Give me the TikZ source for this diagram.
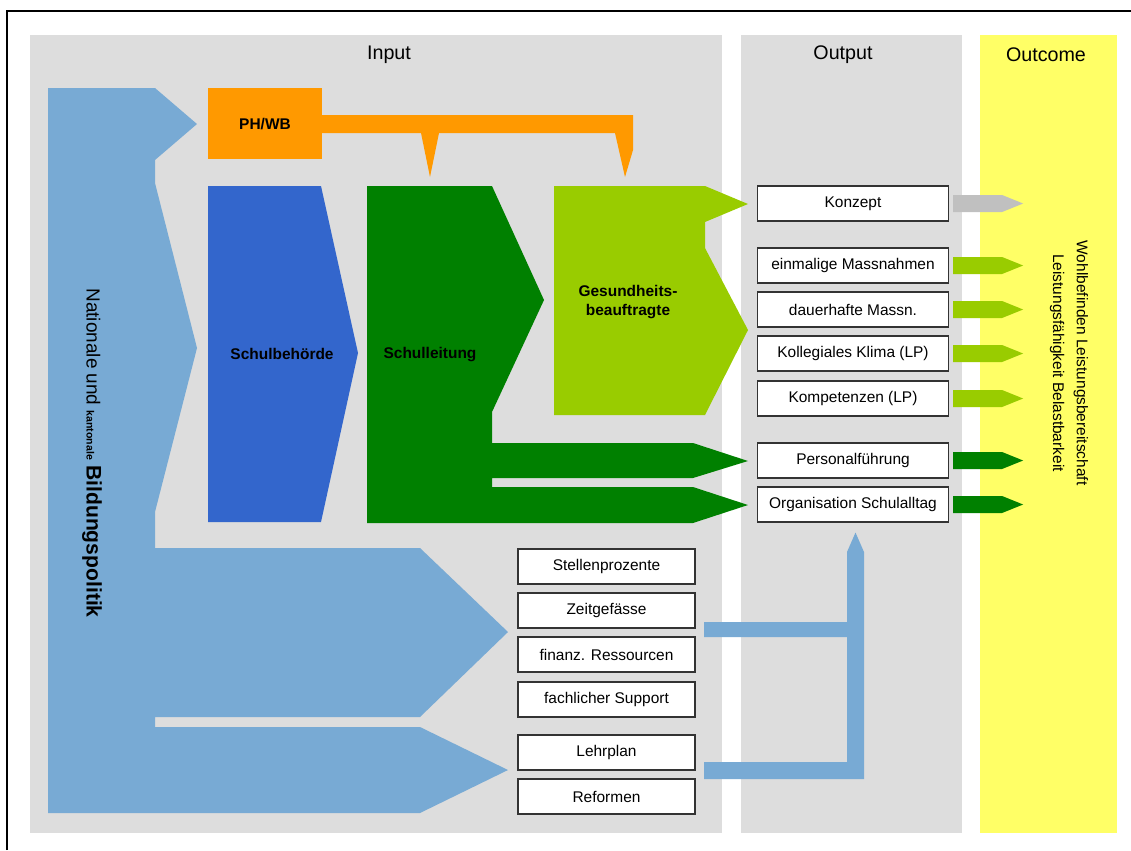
\documentclass[tikz,border=0pt]{standalone}
\usepackage{fontspec}
\setmainfont{Liberation Sans}
\usetikzlibrary{calc}
\definecolor{panelgray}{RGB}{221,221,221}
\definecolor{outcomeyellow}{RGB}{255,255,102}
\definecolor{politikblue}{RGB}{120,170,212}
\definecolor{behoerdeblue}{RGB}{51,102,204}
\definecolor{leitunggreen}{RGB}{0,128,0}
\definecolor{gesundgreen}{RGB}{153,204,0}
\definecolor{phorange}{RGB}{255,153,0}
\definecolor{arrowgray}{RGB}{192,192,192}
\definecolor{boxborder}{RGB}{51,51,51}
\tikzset{
	outbox/.style={draw=boxborder, fill=white, line width=0.8pt, minimum width=4.775cm, minimum height=0.875cm, inner sep=0pt, font=\fontsize{11}{13}\selectfont},
	inbox/.style={outbox, minimum width=4.425cm},
	shapelabel/.style={font=\bfseries\fontsize{11}{13}\selectfont, align=center},
	paneltitle/.style={font=\fontsize{14}{16}\selectfont}
}
\def\tagarrow[#1](#2)(#3:#4:#5){\fill[#1] ($(#2)+(4,-#5)$) -- ++(#3,0) -- ++(#4,#5) -- ++(-#4,#5) -- ++(-#3,0) -- cycle;}

\begin{document}
\begin{tikzpicture}[x=0.025cm, y=-0.025cm]
			%%%%% START %%%%%
			\useasboundingbox (0,0) rectangle (1131,850);
			\fill[white] (0,0) rectangle (1131,850);
			\draw[line width=1pt] (7,850) -- (7,11) -- (1131,11);
			
			\fill[panelgray] (30,35) rectangle (722,833);
			\fill[panelgray] (741,35) rectangle (962,833);
			\fill[outcomeyellow] (980,35) rectangle (1117,833);
			
			\node[paneltitle] (input) at (389,55) {Input};
			\node[paneltitle] (output) at (843,55) {Output};
			\node[paneltitle] (outcome) at (1046,55) {Outcome};
			
			\fill[politikblue] (48,88) -- (155,88) -- (197,124) -- (155,160) -- (155,183) -- (197,348) -- (155,512) -- (155,548) -- (420,548) -- (508,632) -- (420,717) -- (155,717) -- (155,727) -- (420,727) -- (508,770) -- (420,813) -- (48,813) -- cycle;
			\node[rotate=-90] (politik) at (92,453) {\fontsize{13.5}{16}\selectfont Nationale und {\bfseries\fontsize{7.5}{9}\selectfont kantonale} {\bfseries\fontsize{15}{18}\selectfont Bildungspolitik}};
			
			\fill[phorange] (208,88) rectangle (322,159);
			\fill[phorange] (322,115) -- (633,115) -- (633,150) -- (625,177) -- (615,133) -- (439,133) -- (430,177) -- (421,133) -- (322,133) -- cycle;
			\node[shapelabel] (phwb) at (265,124) {PH/WB};
			
			\fill[behoerdeblue] (208,186) -- (321,186) -- (358,353) -- (321,522) -- (208,522) -- cycle;
			\node[shapelabel] (behoerde) at (282,354) {Schulbehörde};
			
			\fill[leitunggreen] (367,186) -- (492,186) -- (544,300) -- (492,412) -- (492,443) -- (693,443) -- (748,461) -- (693,478) -- (492,478) -- (492,487) -- (693,487) -- (748,505) -- (693,523) -- (367,523) -- cycle;
			\node[shapelabel] (leitung) at (430,355) {Schulleitung};
			
			\fill[gesundgreen] (554,186) -- (705,186) -- (748,204) -- (705,222) -- (705,248) -- (748,330) -- (705,415) -- (554,415) -- cycle;
			\node[shapelabel] (gesund) at (628,302) {Gesundheits-\\beauftragte};
			
			\node[outbox] (konzept) at (853,203.5) {Konzept};
			\node[outbox] (einmalig) at (853,265.5) {einmalige Massnahmen};
			\node[outbox] (dauerhaft) at (853,309.5) {dauerhafte Massn.};
			\node[outbox] (klima) at (853,353.5) {Kollegiales Klima (LP)};
			\node[outbox] (kompetenz) at (853,398.5) {Kompetenzen (LP)};
			\node[outbox] (personal) at (853,460.5) {Personalführung};
			\node[outbox] (orga) at (853,504.5) {Organisation Schulalltag};
			
			\tagarrow[arrowgray](konzept.east)(49:21:8.5)
			\tagarrow[gesundgreen](einmalig.east)(49:21:8.5)
			\tagarrow[gesundgreen](dauerhaft.east)(49:21:8.5)
			\tagarrow[gesundgreen](klima.east)(49:21:8.5)
			\tagarrow[gesundgreen](kompetenz.east)(49:21:8.5)
			\tagarrow[leitunggreen](personal.east)(49:21:8.5)
			\tagarrow[leitunggreen](orga.east)(49:21:8.5)
			
			\node[inbox] (stellen) at (606.5,566.5) {Stellenprozente};
			\node[inbox] (zeit) at (606.5,610.5) {Zeitgefässe};
			\node[inbox] (finanz) at (606.5,654.5) {finanz. Ressourcen};
			\node[inbox] (support) at (606.5,699.5) {fachlicher Support};
			\node[inbox] (lehrplan) at (606.5,752.5) {Lehrplan};
			\node[inbox] (reformen) at (606.5,796.5) {Reformen};
			
			\coordinate (feed) at ($(orga.south)+(2.5,10)$);
			\fill[politikblue] (704,622) -- (847,622) -- (847,552) -- (feed) -- (864,552) -- (864,779) -- (704,779) -- (704,762) -- (847,762) -- (847,637) -- (704,637) -- cycle;
			
			\node[rotate=-90, align=center, font=\fontsize{11}{17}\selectfont] (outcometext) at (1069,363) {Wohlbefinden Leistungsbereitschaft\\Leistungsfähigkeit Belastbarkeit};
			%%%%% END %%%%%
\end{tikzpicture}
\end{document}
